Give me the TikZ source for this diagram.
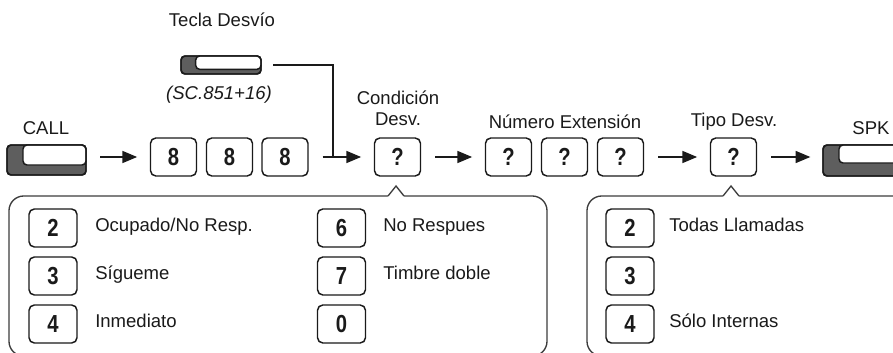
\documentclass[tikz,border=0pt]{standalone}
\usepackage{fontspec}
\setmainfont{Liberation Sans}
\newfontfamily\keyfont[FakeStretch=0.82]{Liberation Sans Bold}
\usetikzlibrary{arrows.meta}

\definecolor{ink}{HTML}{1A1A1A}
\definecolor{btngray}{HTML}{5E5E5E}

\tikzset{
    key/.style={draw=ink, line width=1.1pt, rounded corners=4pt, fill=white, inner sep=0pt,
        minimum width=34.5pt, minimum height=28.5pt, text=ink,
        font=\keyfont\fontsize{18.5}{18}\selectfont},
    pkey/.style={key, minimum width=36pt},
    btn/.style={draw=ink, line width=1.1pt, rounded corners=3pt, fill=btngray, inner sep=0pt, outer sep=0pt},
    lbl/.style={inner sep=0pt, text=ink, font=\fontsize{13.9}{16}\selectfont},
    arr/.style={draw=ink, line width=1pt, -{Triangle[length=11pt,width=9pt]},
        shorten <=10.5pt, shorten >=9.5pt},
    panel/.style={draw=ink!85, line width=1pt, rounded corners=11pt},
    ptr/.style={draw=ink!85, line width=1pt},
}

% white face of a key button: node, dark left width, dark bottom height
\newcommand{\btnface}[3]{%
    \draw[ink, line width=1.1pt, fill=white, rounded corners=3pt]
        ([xshift=#2]#1.north west) rectangle ([yshift=#3]#1.south east);
    \draw[ink, line width=1.1pt, rounded corners=3pt] (#1.north west) rectangle (#1.south east);}

\begin{document}
\begin{tikzpicture}[x=0.75pt, y=-0.75pt]
    \useasboundingbox (0,0) rectangle (893,353);
    \clip (0,0) rectangle (893,353);
    %
    \draw[panel, fill=white] (9,196) rectangle (547,356);
    \draw[panel, fill=white] (587,196) rectangle (910,356);
    \fill[white] (387.5,197.2) -- (396,186) -- (404.5,197.2) -- cycle;
    \draw[ptr] (388,196) -- (396,186) -- (404,196);
    \fill[white] (722.5,197.2) -- (731,186) -- (739.5,197.2) -- cycle;
    \draw[ptr] (723,196) -- (731,186) -- (739,196);
    %
    \draw
    (46.5,160)node(call)[btn, minimum width=59.25pt, minimum height=22.5pt]{}
    (221,65)node(tecla)[btn, minimum width=60pt, minimum height=13.5pt]{}
    (863,160.5)node(spk)[btn, minimum width=60pt, minimum height=23.25pt]{}
    (173.5,157)node(k1)[key]{8}
    (229.5,157)node(k2)[key]{8}
    (285,157)node(k3)[key]{8}
    (397.5,157)node(cond)[key]{?}
    (508.5,157)node(n1)[key]{?}
    (564.5,157)node(n2)[key]{?}
    (620.5,157)node(n3)[key]{?}
    (733.5,157)node(tipo)[key]{?};
    \btnface{call}{12pt}{7.5pt}
    \btnface{tecla}{11pt}{3.5pt}
    \btnface{spk}{12pt}{9.75pt}
    %
    \draw
    (222,27)node(tlab)[lbl, anchor=base]{Tecla Desvío}
    (219,99)node(sclab)[lbl, anchor=base, font=\fontsize{13.9}{16}\selectfont\itshape]{(SC.851+16)}
    (46,135)node(calllab)[lbl, anchor=base]{CALL}
    (398,108)node(condlab)[lbl, align=center]{Condición\\Desv.}
    (565,128)node(numlab)[lbl, anchor=base]{Número Extensión}
    (734,127)node(tipolab)[lbl, anchor=base]{Tipo Desv.}
    (871,135)node(spklab)[lbl, anchor=base]{SPK};
    %
    \coordinate (join) at (333,157);
    \draw[arr] (call.east |- k1) -- (k1);
    \draw[arr] (k3) -- (cond);
    \draw[ptr, draw=ink, shorten <=9pt] (tecla.east) -| (join);
    \draw[arr] (cond) -- (n1);
    \draw[arr] (n3) -- (tipo);
    \draw[arr] (tipo) -- (spk.west |- tipo);
    %
    \draw
    (53,228)node(c2)[pkey]{2}
    (53,276)node(c3)[pkey]{3}
    (53,324)node(c4)[pkey]{4}
    (341.5,228)node(c6)[pkey]{6}
    (341.5,276)node(c7)[pkey]{7}
    (341.5,324)node(c0)[pkey]{0}
    (630,228)node(t2)[pkey]{2}
    (630,276)node(t3)[pkey]{3}
    (630,324)node(t4)[pkey]{4};
    \draw
    (95,231)node(c2txt)[lbl, anchor=base west]{Ocupado/No Resp.}
    (95,279)node(c3txt)[lbl, anchor=base west]{Sígueme}
    (95,327)node(c4txt)[lbl, anchor=base west]{Inmediato}
    (383,231)node(c6txt)[lbl, anchor=base west]{No Respues}
    (383,279)node(c7txt)[lbl, anchor=base west]{Timbre doble}
    (669,231)node(t2txt)[lbl, anchor=base west]{Todas Llamadas}
    (669,327)node(t4txt)[lbl, anchor=base west]{Sólo Internas};
\end{tikzpicture}
\end{document}
